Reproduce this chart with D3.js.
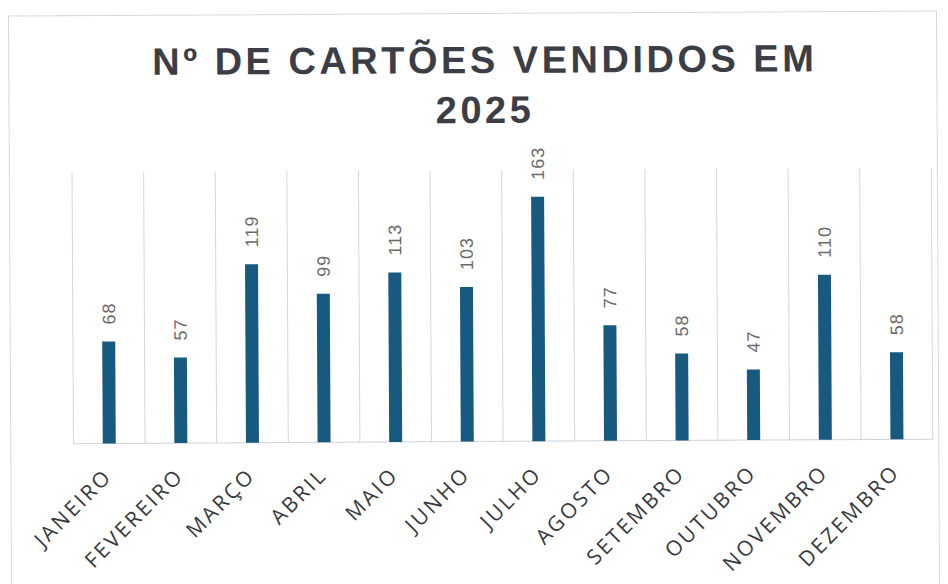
<!doctype html>
<html>
<head>
    <meta charset="utf-8">
    <title>Nº de cartões vendidos em 2025</title>
    <style>
        body { margin: 0; background: #ffffff; }
        .title { font-family: "Liberation Sans", Arial, sans-serif; font-weight: bold; font-size: 38px; fill: #3b3e46; letter-spacing: 3.5px; }
        .value { font-family: "Liberation Sans", Arial, sans-serif; font-size: 18px; fill: #6a6a6a; letter-spacing: 1px; }
        .cat { font-family: "Open Sans", sans-serif; font-size: 21px; fill: #363940; letter-spacing: 2.6px; }
        .grid line { stroke: #d3d6db; stroke-width: 1; }
    </style>
</head>
<body>
    <div id="chart"></div>

    <script src="https://cdn.jsdelivr.net/npm/d3@7"></script>
    <script>
        var months = ['JANEIRO', 'FEVEREIRO', 'MARÇO', 'ABRIL', 'MAIO', 'JUNHO',
            'JULHO', 'AGOSTO', 'SETEMBRO', 'OUTUBRO', 'NOVEMBRO', 'DEZEMBRO'];
        var sold = [68, 57, 119, 99, 113, 103, 163, 77, 58, 47, 110, 58];
        var title_lines = ['Nº DE CARTÕES VENDIDOS EM', '2025'];

        var svg_width = 948;
        var svg_height = 584;

        var plot = { left: 72.7, right: 932, top: 170, bottom: 441.5 };

        var svg = d3.select('#chart').append('svg')
            .attr('width', svg_width)
            .attr('height', svg_height);

        // the scanned original is a little tilted
        var g = svg.append('g')
            .attr('transform', 'rotate(-0.3, 480, 300)');

        g.append('rect')
            .attr('x', 10)
            .attr('y', 13.5)
            .attr('width', 928)
            .attr('height', 600)
            .attr('fill', 'none')
            .attr('stroke', '#d6d8dc')
            .attr('stroke-width', 1);

        g.selectAll('text.title')
            .data(title_lines)
          .enter().append('text')
            .attr('class', 'title')
            .attr('x', 486)
            .attr('y', function(d, i) { return 73 + i * 50; })
            .attr('text-anchor', 'middle')
            .text(function(d) { return d; });

        var x = d3.scaleBand()
            .domain(months)
            .range([plot.left, plot.right])
            .paddingInner(0)
            .paddingOuter(0);

        var y = d3.scaleLinear()
            .domain([0, 181])
            .range([plot.bottom, plot.top]);

        var bar_width = 13;

        // vertical gridlines at the band edges
        var edges = months.map(function(d) { return x(d); }).concat([plot.right]);
        g.append('g')
            .attr('class', 'grid')
            .selectAll('line')
            .data(edges)
          .enter().append('line')
            .attr('x1', function(d) { return d; })
            .attr('x2', function(d) { return d; })
            .attr('y1', plot.top)
            .attr('y2', plot.bottom);

        g.append('line')
            .attr('x1', plot.left)
            .attr('x2', plot.right)
            .attr('y1', plot.bottom)
            .attr('y2', plot.bottom)
            .attr('stroke', '#cfd2d7')
            .attr('stroke-width', 1);

        var rows = months.map(function(m, i) { return { month: m, value: sold[i] }; });

        g.selectAll('rect.bar')
            .data(rows)
          .enter().append('rect')
            .attr('class', 'bar')
            .attr('x', function(d) { return x(d.month) + x.bandwidth() / 2 - bar_width / 2; })
            .attr('y', function(d) { return y(d.value); })
            .attr('width', bar_width)
            .attr('height', function(d) { return plot.bottom - y(d.value); })
            .attr('fill', '#17597f');

        g.selectAll('text.value')
            .data(rows)
          .enter().append('text')
            .attr('class', 'value')
            .attr('transform', function(d) {
                var cx = x(d.month) + x.bandwidth() / 2 + 6.5;
                return 'translate(' + cx + ',' + (y(d.value) - 17) + ') rotate(-90)';
            })
            .text(function(d) { return d.value; });

        var xAxis = d3.axisBottom(x).tickSize(0).tickPadding(0);
        var axis_g = g.append('g')
            .attr('transform', 'translate(0,' + plot.bottom + ')')
            .call(xAxis);
        axis_g.select('.domain').remove();
        axis_g.selectAll('text')
            .attr('class', 'cat')
            .attr('text-anchor', 'end')
            .attr('dy', null)
            .attr('y', null)
            .attr('transform', 'translate(4,34) rotate(-45)');
    </script>
</body>
</html>
